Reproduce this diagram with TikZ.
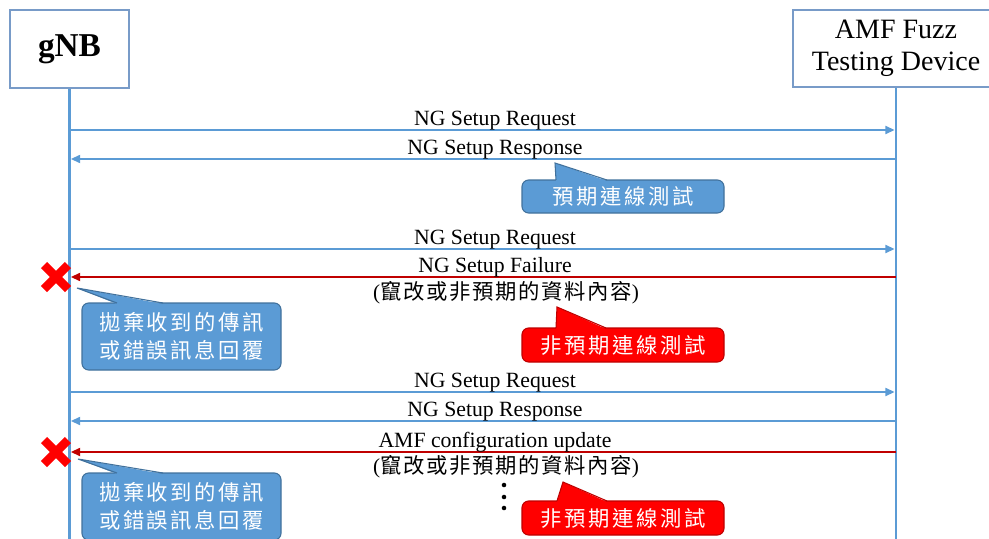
\documentclass[tikz,border=0pt]{standalone}
\usepackage{fontspec}
\setmainfont{Liberation Serif}
\newfontfamily\cjk[LetterSpace=12]{Noto Sans CJK TC}
\newfontfamily\cjknote[LetterSpace=8]{Noto Sans CJK TC}
\usetikzlibrary{arrows.meta,positioning,calc}
\definecolor{lifeblue}{RGB}{91,155,213}
\definecolor{edgeblue}{RGB}{65,113,156}
\definecolor{msgred}{RGB}{192,0,0}
\definecolor{edgered}{RGB}{190,0,0}
\definecolor{boxline}{RGB}{120,155,200}

\begin{document}
\begin{tikzpicture}[x=0.75pt,y=-0.75pt,
  actor/.style={draw=boxline, line width=0.9pt, fill=white, align=center, inner sep=0pt},
  life/.style={draw=lifeblue, line width=2.2pt},
  msg/.style={draw=lifeblue, line width=1.5pt, -{Triangle[length=7pt,width=6pt]}, shorten >=1pt},
  bad/.style={msg, draw=msgred},
  lbl/.style={font=\fontsize{16.3}{18}\selectfont, anchor=base, inner sep=0pt},
  note/.style={font=\fontsize{16}{18}\selectfont, inner sep=0pt},
  bluebox/.style={fill=lifeblue, draw=edgeblue, line width=0.8pt, rounded corners=5pt,
    text=white, align=center, font=\cjk\fontsize{16}{21}\selectfont, inner sep=0pt},
  redbox/.style={bluebox, fill=red, draw=edgered},
  cross/.style={draw=red, line width=6.5pt}]
  \useasboundingbox (0,0) rectangle (989,539);
  % actors and lifelines
  \node[actor, minimum width=89.25pt, minimum height=58.5pt,
    font=\bfseries\fontsize{25}{28}\selectfont] (gnb) at (69.5,49) {gNB};
  \node[actor, minimum width=154.5pt, minimum height=57.75pt,
    font=\fontsize{21}{24}\selectfont] (amf) at (896,48.5) {AMF Fuzz\\Testing Device};
  \coordinate (gend) at (gnb.south |- 0,545);
  \coordinate (aend) at (amf.south |- 0,545);
  \draw[life] (gnb.south) -- (gend);
  \draw[life] (amf.south) -- (aend);
  % messages
  \foreach \y/\from/\to/\kind/\txt [count=\i] in {130/gnb/amf/msg/NG Setup Request,
      159/amf/gnb/msg/NG Setup Response, 249/gnb/amf/msg/NG Setup Request,
      277/amf/gnb/bad/NG Setup Failure, 392/gnb/amf/msg/NG Setup Request,
      421/amf/gnb/msg/NG Setup Response, 452/amf/gnb/bad/AMF configuration update} {
    \coordinate (s\i) at (\from.south |- 0,\y);
    \coordinate (e\i) at (\to.south |- 0,\y);
    \draw[\kind] (s\i) -- (e\i);
    \node[lbl] (m\i) at (495,\y-5) {\txt};
  }
  \node[note] (w1) at (506,293) {(\cjknote 竄改或非預期的資料內容\rmfamily)};
  \node[note] (w2) at (506,467) {(\cjknote 竄改或非預期的資料內容\rmfamily)};
  % rejected messages
  \foreach \y [count=\i] in {277,452} {
    \coordinate (x\i) at (56,\y);
    \draw[cross] ($(x\i)+(-12,-12)$) -- ($(x\i)+(12,12)$)
                 ($(x\i)+(-12,12)$) -- ($(x\i)+(12,-12)$);
  }
  % callouts
  \node[bluebox, minimum width=151.5pt, minimum height=24.75pt] (c1) at (623,196.5) {預期連線測試};
  \fill[lifeblue] (555,163) -- (556,181) -- (607,181) -- cycle;
  \draw[edgeblue, line width=0.8pt] (556,180) -- (555,163) -- (607,180);

  \node[bluebox, minimum width=149.25pt, minimum height=50.25pt] (c2) at (181.5,336.5) {拋棄收到的傳訊\\或錯誤訊息回覆};
  \fill[lifeblue] (77,288) -- (117,304) -- (163,304) -- cycle;
  \draw[edgeblue, line width=0.8pt] (117,303) -- (77,288) -- (163,303);

  \node[redbox, minimum width=151.5pt, minimum height=25.5pt] (c3) at (623,345) {非預期連線測試};
  \fill[red] (557,307) -- (556,329) -- (606,329) -- cycle;
  \draw[edgered, line width=0.8pt] (556,328) -- (557,307) -- (606,328);

  \node[bluebox, minimum width=149.25pt, minimum height=50.25pt] (c4) at (181.5,506.5) {拋棄收到的傳訊\\或錯誤訊息回覆};
  \fill[lifeblue] (78,459) -- (117,474) -- (163,474) -- cycle;
  \draw[edgeblue, line width=0.8pt] (117,473) -- (78,459) -- (163,473);

  \node[redbox, minimum width=151.5pt, minimum height=25.5pt] (c5) at (623,518) {非預期連線測試};
  \fill[red] (563,482) -- (557,502) -- (607,502) -- cycle;
  \draw[edgered, line width=0.8pt] (557,501) -- (563,482) -- (607,501);
  % more messages follow
  \foreach \d in {485,497,508}
    \fill (504,\d) circle[radius=1.7pt];
\end{tikzpicture}
\end{document}
